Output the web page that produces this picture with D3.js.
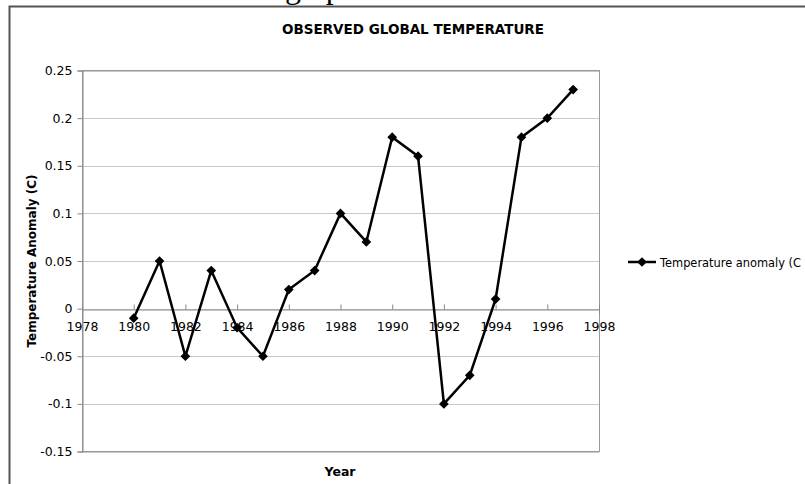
<!DOCTYPE html>
<html><head><meta charset="utf-8">
<script src="https://cdn.jsdelivr.net/npm/d3@7"></script>
<style>html,body{margin:0;padding:0;background:#fff;overflow:hidden}</style>
</head><body>
<script>
const years = [1980,1981,1982,1983,1984,1985,1986,1987,1988,1989,1990,1991,1992,1993,1994,1995,1996,1997];
const anomalies = [-0.01,0.05,-0.05,0.04,-0.02,-0.05,0.02,0.04,0.10,0.07,0.18,0.16,-0.10,-0.07,0.01,0.18,0.20,0.23];
const xTicks = [1978,1980,1982,1984,1986,1988,1990,1992,1994,1996,1998];
const yTicks = [-0.15,-0.1,-0.05,0,0.05,0.1,0.15,0.2,0.25];
const seriesName = "Temperature anomaly (C";
const title = "OBSERVED GLOBAL TEMPERATURE";

const W = 805, H = 484;
const svg = d3.select("body").append("svg").attr("width", W).attr("height", H);
const font = "'DejaVu Sans', Verdana, sans-serif";

// cropped heading text above the frame (as in the reference)
svg.append("text").attr("x", 285).attr("y", -2).attr("font-family", "'Liberation Serif', serif")
  .attr("font-size", 32).attr("fill", "#000").text("graph");

// outer frame
svg.append("path").attr("d", `M9.5,${H+5} V6.5 H${W+5}`).attr("fill", "none")
  .attr("stroke", "#555").attr("stroke-width", 2);

const L = 82, R = 599, T = 70.5, B = 451.5;
const x = d3.scaleLinear().domain([1978, 1998]).range([L, R]);
const y = d3.scaleLinear().domain([-0.15, 0.25]).range([B, T]);

// gridlines
svg.append("g").selectAll("line").data(yTicks).join("line")
  .attr("x1", L).attr("x2", R).attr("y1", d => Math.round(y(d)) + 0.5).attr("y2", d => Math.round(y(d)) + 0.5)
  .attr("stroke", "#c8c8c8").attr("stroke-width", 1);

// plot border
svg.append("rect").attr("x", L + 0.5).attr("y", T).attr("width", R - L).attr("height", B - T)
  .attr("fill", "none").attr("stroke", "#999").attr("stroke-width", 1);

// y axis
const yAxis = d3.axisLeft(y).tickValues(yTicks).tickSize(5).tickPadding(5)
  .tickFormat(d => String(+d.toFixed(2)));
const gy = svg.append("g").attr("transform", `translate(${L + 0.5},0)`).call(yAxis);
gy.select(".domain").attr("stroke", "#888");
gy.selectAll(".tick line").attr("stroke", "#888");
gy.selectAll("text").attr("font-family", font).attr("font-size", 12.5).attr("fill", "#000");

// x axis at y=0
const xAxis = d3.axisBottom(x).tickValues(xTicks).tickSize(5).tickPadding(8).tickFormat(d3.format("d"));
const gx = svg.append("g").attr("transform", `translate(0,${Math.round(y(0)) + 0.5})`).call(xAxis);
gx.select(".domain").attr("stroke", "#888");
gx.selectAll(".tick line").attr("stroke", "#888").attr("y1", -5).attr("y2", 0);
gx.selectAll("text").attr("font-family", font).attr("font-size", 12.5).attr("fill", "#000");

// line
const data = years.map((yr, i) => ({yr, v: anomalies[i]}));
svg.append("path").datum(data)
  .attr("d", d3.line().x(d => x(d.yr)).y(d => y(d.v)))
  .attr("fill", "none").attr("stroke", "#000").attr("stroke-width", 2.5).attr("stroke-linejoin", "miter");
const diamond = d3.symbol().type(d3.symbolDiamond2).size(60);
svg.append("g").selectAll("path").data(data).join("path")
  .attr("transform", d => `translate(${x(d.yr)},${y(d.v)})`)
  .attr("d", diamond).attr("fill", "#000");

// title
svg.append("text").attr("x", 413).attr("y", 34).attr("text-anchor", "middle")
  .attr("font-family", font).attr("font-weight", "bold").attr("font-size", 13.5)
  .text(title);

// axis titles
svg.append("text").attr("x", 340).attr("y", 476).attr("text-anchor", "middle")
  .attr("font-family", font).attr("font-weight", "bold").attr("font-size", 12.5).text("Year");
svg.append("text").attr("transform", "translate(36,261) rotate(-90)").attr("text-anchor", "middle")
  .attr("font-family", font).attr("font-weight", "bold").attr("font-size", 12).text("Temperature Anomaly (C)");

// legend
const lg = svg.append("g").attr("transform", "translate(628,262)");
lg.append("line").attr("x1", 0).attr("x2", 28).attr("stroke", "#000").attr("stroke-width", 2.5);
lg.append("path").attr("transform", "translate(14,0)").attr("d", diamond).attr("fill", "#000");
lg.append("text").attr("x", 32).attr("y", 4.5).attr("font-family", font).attr("font-size", 11.5)
  .attr("textLength", 141).attr("lengthAdjust", "spacingAndGlyphs").text(seriesName);
</script>
</body></html>
